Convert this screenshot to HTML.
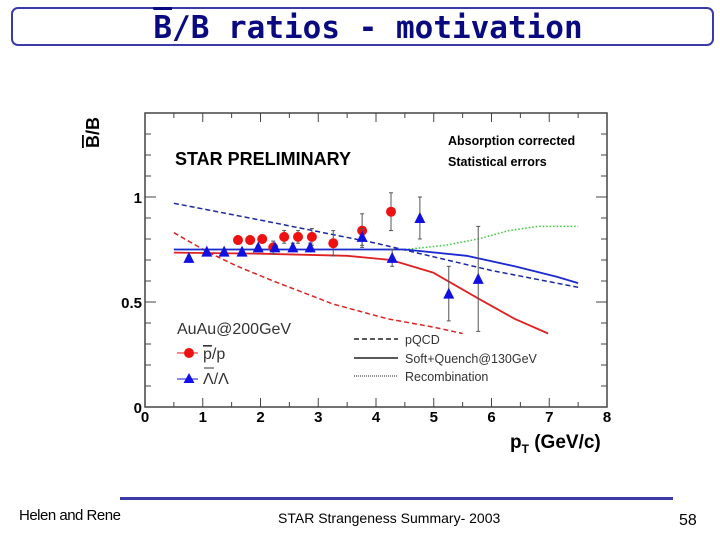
<!DOCTYPE html>
<html><head><meta charset="utf-8"><style>
body{margin:0;background:#fff;width:720px;height:540px;overflow:hidden;position:relative;font-family:"Liberation Sans",sans-serif}
.t{position:absolute;white-space:nowrap}
</style></head><body>
<div style="position:absolute;left:11px;top:7px;width:703px;height:39px;border:2px solid #3a3aa8;border-radius:7px;box-sizing:border-box"></div>
<div class="t" style="left:0;width:736px;text-align:center;top:10px;font-family:'DejaVu Sans Mono','Liberation Mono',monospace;font-weight:bold;font-size:31px;color:#0a0a80"><span style="text-decoration:overline">B</span>/B ratios - motivation</div>
<svg id="chart" width="720" height="540" style="position:absolute;left:0;top:0" font-family="Liberation Sans, sans-serif"></svg>
<div style="position:absolute;left:120px;top:497px;width:553px;height:3px;background:#3a3aa8"></div>
<div class="t" style="left:19px;top:507px;font-size:15px;letter-spacing:-0.5px">Helen and Rene</div>
<div class="t" style="left:278px;top:510px;font-size:14px">STAR Strangeness Summary- 2003</div>
<div class="t" style="left:679px;top:512px;font-size:16px">58</div>
<script>
const pX=[1.61,1.82,2.03,2.22,2.41,2.65,2.89,3.26,3.76,4.26];
const pY=[0.795,0.795,0.80,0.76,0.81,0.81,0.81,0.78,0.84,0.93];
const pE=[0.02,0.02,0.02,0.03,0.03,0.03,0.04,0.06,0.08,0.09];
const lX=[0.76,1.07,1.37,1.68,1.96,2.25,2.56,2.86,3.76,4.28,4.76,5.26,5.77];
const lY=[0.71,0.74,0.74,0.74,0.76,0.76,0.76,0.76,0.81,0.71,0.90,0.54,0.61];
const lE=[0.01,0.01,0.01,0.01,0.01,0.01,0.02,0.02,0.04,0.04,0.10,0.13,0.25];
const pqcdLX=[0.5,2,4,6,7.5], pqcdLY=[0.97,0.89,0.78,0.65,0.57];
const pqcdPX=[0.5,1.07,1.6,2.22,3.26,4.2,5.0,5.5], pqcdPY=[0.83,0.74,0.67,0.60,0.49,0.42,0.38,0.35];
const sqLX=[0.5,3,4.5,5.57,6.4,7.13,7.5], sqLY=[0.75,0.75,0.75,0.72,0.67,0.62,0.59];
const sqPX=[0.5,2,3.5,4.26,4.99,5.75,6.4,6.98], sqPY=[0.735,0.73,0.72,0.70,0.64,0.52,0.42,0.35];
const recX=[0.5,3,4.5,5.2,5.77,6.3,6.8,7.5], recY=[0.75,0.75,0.75,0.77,0.80,0.84,0.86,0.86];
const xTicks=[0,1,2,3,4,5,6,7,8];
const yTicks=["0","0.5","1"];
const X=v=>145+57.75*v, Y=v=>407-210*v;
const s=document.getElementById('chart'), NS='http://www.w3.org/2000/svg';
function mk(t,a,p){const e=document.createElementNS(NS,t);for(const k in a)e.setAttribute(k,a[k]);(p||s).appendChild(e);return e;}
let e;
e=mk('rect',{x:145,y:113,width:462,height:294,fill:'none',stroke:'#444','stroke-width':1.5});


for(let i=0;i<=16;i++){const v=i/2,L=i%2?5:9;mk('line',{x1:X(v),x2:X(v),y1:407,y2:407-L,stroke:'#444'});mk('line',{x1:X(v),x2:X(v),y1:113,y2:113+L,stroke:'#444'});}
for(let i=0;i<=14;i++){const v=i/10,L=i%5?6:11;if(Y(v)<113)continue;mk('line',{x1:145,x2:145+L,y1:Y(v),y2:Y(v),stroke:'#444'});mk('line',{x1:607,x2:607-L,y1:Y(v),y2:Y(v),stroke:'#444'});}
xTicks.forEach(v=>{e=mk('text',{x:X(v),y:422,'text-anchor':'middle','font-size':15,'font-weight':'bold'});e.textContent=v;

});
yTicks.forEach(v=>{e=mk('text',{x:142,y:Y(+v)+6,'text-anchor':'end','font-size':15,'font-weight':'bold'});e.textContent=v;

});
e=mk('text',{x:510,y:448,'font-size':19,'font-weight':'bold'});e.innerHTML='p<tspan font-size="12" dy="5">T</tspan><tspan dy="-5">  (GeV/c)</tspan>';


e=mk('text',{x:0,y:0,'font-size':18,'font-weight':'bold',transform:'translate(99,148) rotate(-90)'});e.innerHTML='<tspan text-decoration="overline">B</tspan>/B';


e=mk('text',{x:175,y:165,'font-size':18,'font-weight':'bold'});e.textContent='STAR  PRELIMINARY';


e=mk('text',{x:448,y:145,'font-size':12.5,'font-weight':'bold'});e.textContent='Absorption  corrected';


e=mk('text',{x:448,y:166,'font-size':12.5,'font-weight':'bold'});e.textContent='Statistical  errors';


function line(xs,ys,c,d,w,n){const p=xs.map((x,i)=>(i?'L':'M')+X(x)+','+Y(ys[i])).join('');const l=mk('path',{d:p,fill:'none',stroke:c,'stroke-width':w||1.5,'stroke-dasharray':d||'none'});

}
line(recX,recY,'#3c3','1.5,2',1.5,'recombination-curve');
line(pqcdLX,pqcdLY,'#1a2aa0','5,3',1.5,'pqcd-lambda-curve');
line(pqcdPX,pqcdPY,'#d22','5,3',1.5,'pqcd-proton-curve');
line(sqLX,sqLY,'#1a2ad0','',1.8,'soft-quench-lambda-curve');
line(sqPX,sqPY,'#d22','',1.8,'soft-quench-proton-curve');
function err(x,y,er){mk('line',{x1:X(x),x2:X(x),y1:Y(y+er),y2:Y(y-er),stroke:'#555'});mk('line',{x1:X(x)-2,x2:X(x)+2,y1:Y(y+er),y2:Y(y+er),stroke:'#555'});mk('line',{x1:X(x)-2,x2:X(x)+2,y1:Y(y-er),y2:Y(y-er),stroke:'#555'});}
pX.forEach((x,i)=>{err(x,pY[i],pE[i]);e=mk('circle',{cx:X(x),cy:Y(pY[i]),r:5,fill:'#e11'});

});
lX.forEach((x,i)=>{err(x,lY[i],lE[i]);const cx=X(x),cy=Y(lY[i]);e=mk('polygon',{points:`${cx},${cy-6} ${cx-5.5},${cy+5} ${cx+5.5},${cy+5}`,fill:'#1010e0'});

});
e=mk('text',{x:177,y:334,'font-size':16,fill:'#333'});e.textContent='AuAu@200GeV';


mk('line',{x1:177,x2:198,y1:353,y2:353,stroke:'#e11'});mk('circle',{cx:189,cy:353,r:5,fill:'#e11'});
e=mk('text',{x:203,y:359,'font-size':16,fill:'#333'});e.innerHTML='<tspan text-decoration="overline">p</tspan>/p';


mk('line',{x1:177,x2:198,y1:379,y2:379,stroke:'#11e'});mk('polygon',{points:'189,373 183.5,383 194.5,383',fill:'#11e'});
e=mk('text',{x:203,y:384,'font-size':16,fill:'#333'});e.textContent='Λ/Λ';


mk('line',{x1:204,x2:214,y1:368,y2:368,stroke:'#333'});
[['5,3','pQCD',343],['','Soft+Quench@130GeV',362],['1,1','Recombination',380]].forEach(([d,t,y])=>{mk('line',{x1:354,x2:398,y1:y-4,y2:y-4,stroke:'#222','stroke-dasharray':d||'none','stroke-width':d=='1,1'?1:1.5});e=mk('text',{x:405,y:y+1,'font-size':12.5,fill:'#333'});e.textContent=t;

});
</script>
</body></html>
